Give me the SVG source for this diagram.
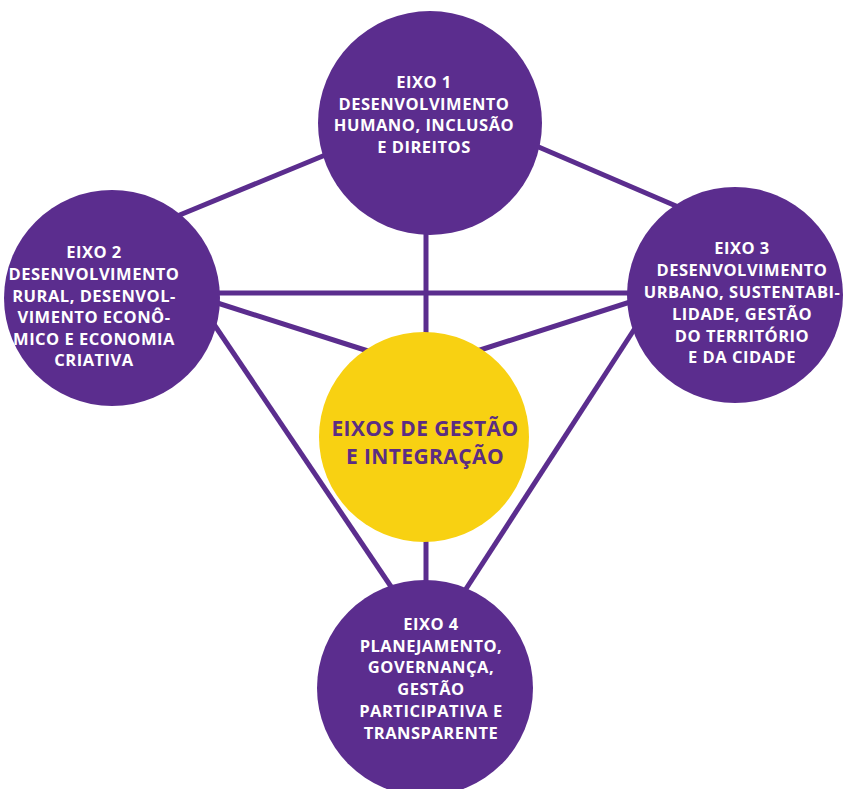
<svg xmlns="http://www.w3.org/2000/svg" width="845" height="789" viewBox="0 0 845 789">
<style>
.ln{stroke:#5b2d8e;stroke-width:5;fill:none}
.eixo{fill:#5b2d8e}
.t{font-family:"Open Sans","DejaVu Sans",sans-serif;font-weight:700;font-size:16.5px;letter-spacing:0.5px;fill:#ffffff;text-anchor:middle}
.c{font-family:"Open Sans","DejaVu Sans",sans-serif;font-weight:700;font-size:21px;letter-spacing:0.4px;fill:#5b2d83;text-anchor:middle}
</style>
<rect width="845" height="789" fill="#ffffff"/>
<g id="connectors">
<line class="ln" x1="170" y1="219" x2="335" y2="151"/>
<line class="ln" x1="513" y1="136" x2="690" y2="212"/>
<line class="ln" x1="200" y1="293" x2="650" y2="293"/>
<line class="ln" x1="205" y1="299" x2="368" y2="351"/>
<line class="ln" x1="207" y1="314" x2="396" y2="594"/>
<line class="ln" x1="652" y1="295" x2="477" y2="351"/>
<line class="ln" x1="652" y1="302" x2="464" y2="592"/>
<line class="ln" x1="426" y1="230" x2="426" y2="340"/>
<line class="ln" x1="426" y1="535" x2="426" y2="590"/>
</g>
<g id="eixo1">
<circle class="eixo" cx="430" cy="123" r="112"/>
<text class="t" x="424" y="88">EIXO 1</text>
<text class="t" x="424" y="110">DESENVOLVIMENTO</text>
<text class="t" x="424" y="131">HUMANO, INCLUSÃO</text>
<text class="t" x="424" y="153">E DIREITOS</text>
</g>
<g id="eixo2">
<circle class="eixo" cx="112" cy="298" r="108"/>
<text class="t" x="94" y="258">EIXO 2</text>
<text class="t" x="94" y="280">DESENVOLVIMENTO</text>
<text class="t" x="94" y="302">RURAL, DESENVOL-</text>
<text class="t" x="94" y="323">VIMENTO ECONÔ-</text>
<text class="t" x="94" y="345">MICO E ECONOMIA</text>
<text class="t" x="94" y="366">CRIATIVA</text>
</g>
<g id="eixo3">
<circle class="eixo" cx="735" cy="295" r="108"/>
<text class="t" x="742" y="254">EIXO 3</text>
<text class="t" x="742" y="276">DESENVOLVIMENTO</text>
<text class="t" x="742" y="298">URBANO, SUSTENTABI-</text>
<text class="t" x="742" y="320">LIDADE, GESTÃO</text>
<text class="t" x="742" y="342">DO TERRITÓRIO</text>
<text class="t" x="742" y="363">E DA CIDADE</text>
</g>
<g id="centro">
<circle cx="424" cy="437" r="105" fill="#f8d112"/>
<text class="c" x="425" y="436">EIXOS DE GESTÃO</text>
<text class="c" x="425" y="464">E INTEGRAÇÃO</text>
</g>
<g id="eixo4">
<circle class="eixo" cx="425" cy="688" r="108"/>
<text class="t" x="431" y="630">EIXO 4</text>
<text class="t" x="431" y="652">PLANEJAMENTO,</text>
<text class="t" x="431" y="673">GOVERNANÇA,</text>
<text class="t" x="431" y="695">GESTÃO</text>
<text class="t" x="431" y="717">PARTICIPATIVA E</text>
<text class="t" x="431" y="739">TRANSPARENTE</text>
</g>
</svg>
